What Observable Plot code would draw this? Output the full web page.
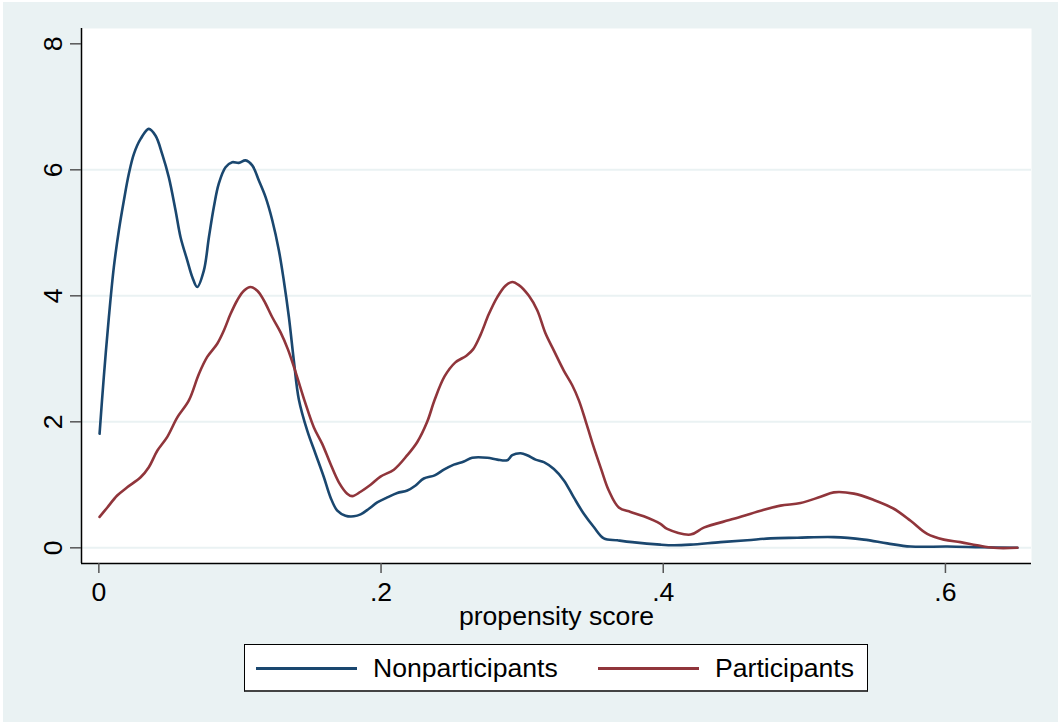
<!DOCTYPE html>
<html>
<head>
<meta charset="utf-8">
<script src="https://cdn.jsdelivr.net/npm/d3@7"></script>
<script src="https://cdn.jsdelivr.net/npm/@observablehq/plot@0.6"></script>
<style>
  html, body { margin: 0; padding: 0; background: #ffffff; }
  #wrap { position: absolute; left: 3px; top: 2px; width: 1055px; height: 720px; background: #EAF2F3; overflow: hidden;
          font-family: "Liberation Sans", Arial, sans-serif; }
  #chart { position: absolute; left: 0; top: 0; }
  #legend { position: absolute; left: 241px; top: 642px; width: 622px; height: 45px; background: #fff;
            border: 1px solid #000; border-bottom: 2px solid #444; }
  .sw { position: absolute; height: 3px; top: 22px; width: 101px; }
  .lab { position: absolute; top: 10px; font-size: 26.6px; line-height: 26px; color: #000; white-space: nowrap; }
</style>
</head>
<body>
<div id="wrap">
  <div id="chart"></div>
  <div id="legend"></div>
</div>
<script>
// ---- data ----
const seriesNames = ["Nonparticipants", "Participants"];
const seriesColors = ["#1A476F", "#90353B"];

const nonX = [0.0005,0.0035,0.0071,0.0106,0.0142,0.0177,0.0213,0.0248,0.0296,0.0354,0.0402,0.0449,0.0496,0.0544,0.0579,0.0627,0.0662,0.0697,0.0744,0.0780,0.0815,0.0850,0.0898,0.0945,0.0992,0.1040,0.1087,0.1134,0.1181,0.1229,0.1276,0.1311,0.1347,0.1382,0.1417,0.1477,0.1536,0.1595,0.1642,0.1690,0.1748,0.1807,0.1855,0.1914,0.1973,0.2044,0.2115,0.2186,0.2245,0.2303,0.2380,0.2445,0.2516,0.2587,0.2646,0.2753,0.2824,0.2894,0.2930,0.2989,0.3036,0.3095,0.3154,0.3225,0.3296,0.3366,0.3437,0.3508,0.3579,0.3674,0.3780,0.3980,0.4075,0.4193,0.4406,0.4595,0.4760,0.4950,0.5209,0.5422,0.5588,0.5753,0.6013,0.6249,0.6510];
const nonY = [1.81,2.71,3.66,4.45,5.04,5.51,5.94,6.25,6.49,6.65,6.54,6.25,5.88,5.35,4.93,4.56,4.30,4.14,4.40,4.93,5.41,5.78,6.04,6.12,6.11,6.15,6.07,5.83,5.57,5.20,4.72,4.24,3.66,2.97,2.36,1.86,1.49,1.12,0.80,0.59,0.51,0.50,0.53,0.62,0.72,0.80,0.87,0.91,0.99,1.10,1.15,1.24,1.32,1.37,1.43,1.43,1.40,1.39,1.47,1.50,1.47,1.40,1.36,1.25,1.07,0.80,0.54,0.33,0.15,0.12,0.09,0.05,0.04,0.05,0.09,0.12,0.15,0.16,0.17,0.13,0.07,0.02,0.02,0.01,0.00];

const partX = [0.0005,0.0060,0.0130,0.0201,0.0296,0.0354,0.0414,0.0485,0.0556,0.0638,0.0709,0.0768,0.0839,0.0886,0.0933,0.0981,0.1028,0.1075,0.1123,0.1169,0.1229,0.1288,0.1340,0.1400,0.1460,0.1524,0.1583,0.1642,0.1701,0.1760,0.1796,0.1855,0.1926,0.1996,0.2091,0.2186,0.2257,0.2327,0.2380,0.2450,0.2525,0.2605,0.2652,0.2705,0.2764,0.2824,0.2882,0.2930,0.2977,0.3048,0.3107,0.3166,0.3225,0.3296,0.3355,0.3402,0.3449,0.3497,0.3560,0.3614,0.3685,0.3768,0.3862,0.3980,0.4028,0.4193,0.4287,0.4500,0.4690,0.4831,0.4973,0.5115,0.5209,0.5351,0.5492,0.5634,0.5753,0.5871,0.5989,0.6107,0.6225,0.6343,0.6510];
const partY = [0.49,0.64,0.83,0.96,1.12,1.28,1.54,1.76,2.07,2.34,2.76,3.03,3.24,3.45,3.71,3.93,4.08,4.14,4.08,3.93,3.66,3.42,3.15,2.75,2.32,1.91,1.65,1.33,1.04,0.86,0.82,0.89,1.00,1.13,1.24,1.47,1.68,2.00,2.35,2.72,2.94,3.05,3.15,3.38,3.71,3.98,4.16,4.22,4.17,4.00,3.77,3.40,3.13,2.81,2.58,2.34,2.02,1.67,1.25,0.91,0.64,0.57,0.50,0.38,0.30,0.21,0.32,0.46,0.59,0.67,0.71,0.81,0.88,0.86,0.76,0.62,0.43,0.22,0.13,0.09,0.04,0.00,0.00];

const xTicks = [0, 0.2, 0.4, 0.6];
const yTicks = [0, 2, 4, 6, 8];
const yGrid = [0, 2, 4, 6];
const xTitle = "propensity score";

const xDomain = [-0.0123, 0.661];
const yDomain = [-0.249, 8.243];

const nonData = nonX.map((x, i) => ({x, y: nonY[i]}));
const partData = partX.map((x, i) => ({x, y: partY[i]}));

const fmtX = d => d === 0 ? "0" : d3.format(".1f")(d).replace(/^0/, "");

const chart = Plot.plot({
  width: 1055,
  height: 640,
  marginLeft: 78,
  marginRight: 27,
  marginTop: 26,
  marginBottom: 79,
  x: {domain: xDomain},
  y: {domain: yDomain},
  style: {background: "transparent", fontFamily: "'Liberation Sans', Arial, sans-serif", fontSize: "26px", color: "#000"},
  marks: [
    Plot.frame({fill: "#ffffff", stroke: null}),
    Plot.ruleY(yGrid, {stroke: "#EAF2F3", strokeWidth: 2}),
    Plot.line(nonData, {x: "x", y: "y", stroke: seriesColors[0], strokeWidth: 2.6, curve: "catmull-rom"}),
    Plot.line(partData, {x: "x", y: "y", stroke: seriesColors[1], strokeWidth: 2.6, curve: "catmull-rom"}),
    Plot.ruleX([xDomain[0]], {stroke: "#000", strokeWidth: 1.5}),
    Plot.ruleY([yDomain[0]], {stroke: "#000", strokeWidth: 1.5}),
    Plot.axisX(xTicks, {tickSize: 10, tickPadding: 9, tickFormat: fmtX, stroke: "#555", strokeWidth: 1.5, fontSize: 26.6, label: null}),
    Plot.axisY(yTicks, {tickSize: 11, tickPadding: 9, tickRotate: -90, tickFormat: d => String(d), stroke: "#555", strokeWidth: 1.5, fontSize: 26.6, label: null}),
    Plot.text([xTitle], {frameAnchor: "bottom", dy: 61, fontSize: 26.6, fill: "#000"})
  ]
});
document.getElementById("chart").appendChild(chart);

// legend
const legend = document.getElementById("legend");
const items = [
  {sw: 11, lab: 128},
  {sw: 353, lab: 470}
];
seriesNames.forEach((name, i) => {
  const s = document.createElement("div");
  s.className = "sw";
  s.style.left = items[i].sw + "px";
  s.style.background = seriesColors[i];
  legend.appendChild(s);
  const t = document.createElement("div");
  t.className = "lab";
  t.style.left = items[i].lab + "px";
  t.textContent = name;
  legend.appendChild(t);
});
</script>
</body>
</html>
